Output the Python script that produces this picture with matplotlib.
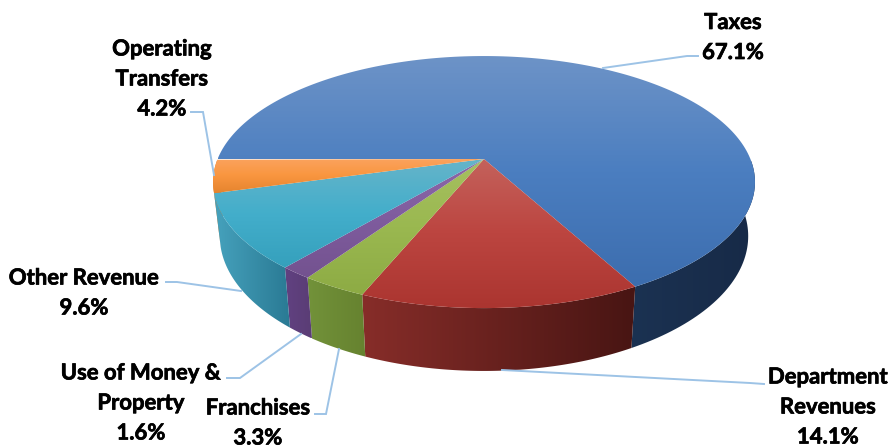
import numpy as np
import matplotlib
matplotlib.use("Agg")
import matplotlib.pyplot as plt
import matplotlib.patheffects as pe
from matplotlib.colors import LinearSegmentedColormap
from matplotlib.patches import Polygon

# Revenue shares, clockwise from the first slice
names = ["Taxes", "Department\nRevenues", "Franchises", "Use of Money &\nProperty", "Other Revenue", "Operating\nTransfers"]
shares = [67.1, 14.1, 3.3, 1.6, 9.6, 4.2]

top_colors = [
    ["#6d93c7", "#4b7ec0", "#3c6dae"],
    ["#c4625c", "#bc4540", "#ab3530"],
    ["#a6c060", "#9ab850", "#8dab44"],
    ["#8c68a8", "#7f5c9e", "#73528f"],
    ["#66b4c9", "#43aecb", "#35a0bc"],
    ["#fba35f", "#f9963f", "#e5842e"],
]
side_colors = [
    ["#1b3252", "#172a47"],
    ["#872d29", "#481513"],
    ["#72923a", "#66822f"],
    ["#614181", "#5a3d75"],
    ["#46a2bd", "#2a7a94"],
    ["#e5842e", "#d87a28"],
]
# order of the side walls: orange goes before teal so it stays hidden
side_order = [0, 5, 1, 2, 3, 4]

label_pos = [(733, 37.5), (828, 407), (258, 423), (141, 403), (84, 293), (162, 79)]
leaders = [
    [(698, 56), (687, 56), (603, 68)],
    [(764, 384), (750, 383), (502, 370)],
    [(315, 414), (326, 414), (339, 349)],
    [(227, 378), (240, 378), (301, 334)],
    [(166, 282), (177, 282), (241, 291)],
    [(191, 112), (203, 112), (214, 175)],
]

# pie geometry in pixels (perspective circle)
cx, cy = 484, 159
rx, ry, k = 266.4, 121.8, 0.183
start = 270


def top_xy(theta):
    u, v = np.sin(np.radians(theta)), np.cos(np.radians(theta))
    w = 1 + k * v
    return cx + rx * u / w, cy - ry * v / w


def bottom_xy(theta):
    x, y = top_xy(theta)
    return cx + 0.975 * (x - cx), 1.07 * y + 41.3


def fill_gradient(ax, pts, colors, horizontal, z):
    cmap = LinearSegmentedColormap.from_list("g", colors)
    grad = np.linspace(0, 1, 256)
    grad = grad.reshape(1, -1) if horizontal else grad.reshape(-1, 1)
    x0, y0 = pts.min(axis=0)
    x1, y1 = pts.max(axis=0)
    im = ax.imshow(grad, cmap=cmap, extent=(x0, x1, y1, y0), aspect="auto", zorder=z, interpolation="bilinear")
    poly = Polygon(pts, closed=True, transform=ax.transData, facecolor="none", edgecolor="none")
    ax.add_patch(poly)
    im.set_clip_path(poly)


fig = plt.figure(figsize=(8.9, 4.47), dpi=100)
ax = fig.add_axes([0, 0, 1, 1])

edges = start + np.cumsum([0] + shares) * 3.6

# side walls, only the front part of the rim
for i in side_order:
    thetas = np.linspace(edges[i], edges[i + 1], 200)
    thetas = thetas[np.cos(np.radians(thetas)) < -1e-3]
    tx, ty = top_xy(thetas)
    bx, by = bottom_xy(thetas)
    side = np.vstack([np.column_stack([tx, ty]), np.column_stack([bx, by])[::-1]])
    fill_gradient(ax, side, side_colors[i], True, 1)

# top faces
for i, colors in enumerate(top_colors):
    thetas = np.linspace(edges[i], edges[i + 1], 200)
    tx, ty = top_xy(thetas)
    face = np.vstack([[cx, cy], np.column_stack([tx, ty])])
    fill_gradient(ax, face, colors, False, 2)

for pts in leaders:
    xs, ys = zip(*pts)
    ax.plot(xs, ys, color="#9dc3e6", lw=1.4, zorder=3, solid_joinstyle="miter")

for name, share, (x, y) in zip(names, shares, label_pos):
    t = ax.text(x, y, f"{name}\n{share}%", ha="center", va="center", family="Lato", weight="bold",
                fontsize=15.9, linespacing=1.53, color="black", zorder=4)
    t.set_path_effects([pe.withStroke(linewidth=0.5, foreground="black")])

ax.set_xlim(0, 890)
ax.set_ylim(447, 0)
ax.axis("off")

fig.savefig("out.png", dpi=100)
